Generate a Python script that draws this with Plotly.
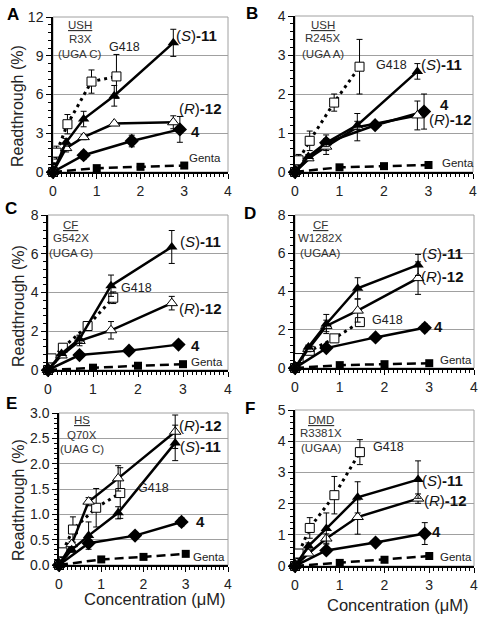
import plotly.graph_objects as go

W, H = 484, 622

# ---------------- data ----------------
X_CMPD = [0, 0.3, 0.7, 1.4, 2.75]      # (S)-11 and (R)-12
X_C4 = [0, 0.7, 1.8, 2.9]              # compound 4
X_G418 = [0, 0.08, 0.33, 0.88, 1.45]   # G418
X_GENTA = [0, 1, 2, 3]                 # gentamicin

A_S11 = [0, 2.3, 4.1, 5.9, 10.0]
A_S11_ERR = [0, 0.3, 0.6, 0.8, 1.05]
A_R12 = [0, 1.85, 2.7, 3.75, 3.85]
A_R12_ERR = [0, 0.3, 0.2, 0.1, 0.5]
A_C4 = [0, 1.3, 2.4, 3.3]
A_C4_ERR = [0, 0.3, 0.45, 1.0]
A_G418 = [0, 1.5, 3.7, 7.0, 7.4]
A_G418_ERR = [0, 0.5, 0.75, 0.9, 1.7]
A_GENTA = [0, 0.3, 0.4, 0.5]

B_S11 = [0, 0.4, 0.75, 1.2, 2.58]
B_S11_ERR = [0, 0.05, 0.1, 0.1, 0.2]
B_R12 = [0, 0.35, 0.65, 1.15, 1.45]
B_R12_ERR = [0, 0.05, 0.2, 0.35, 0.37]
B_C4 = [0, 0.75, 1.2, 1.55]
B_C4_ERR = [0, 0.2, 0.05, 0.45]
B_G418 = [0, 0.3, 0.8, 1.78, 2.7]
B_G418_ERR = [0, 0.15, 0.25, 0.22, 0.7]
B_GENTA = [0, 0.12, 0.15, 0.18]

C_S11 = [0, 0.85, 1.6, 4.35, 6.35]
C_S11_ERR = [0, 0.1, 0.2, 0.55, 0.85]
C_R12 = [0, 0.75, 1.5, 2.05, 3.45]
C_R12_ERR = [0, 0.1, 0.25, 0.45, 0.35]
C_C4 = [0, 0.77, 1.0, 1.31]
C_C4_ERR = [0, 0.15, 0.05, 0.1]
C_G418 = [0, 0.6, 1.15, 2.27, 3.73]
C_G418_ERR = [0, 0.1, 0.1, 0.15, 0.3]
C_GENTA = [0, 0.12, 0.22, 0.3]

D_S11 = [0, 1.1, 2.3, 4.17, 5.39]
D_S11_ERR = [0, 0.1, 0.5, 0.55, 0.55]
D_R12 = [0, 1.0, 2.2, 3.0, 4.7]
D_R12_ERR = [0, 0.15, 0.3, 0.6, 0.85]
D_C4 = [0, 1.04, 1.6, 2.1]
D_C4_ERR = [0, 0.1, 0.1, 0.2]
D_G418 = [0, 0.52, 0.9, 1.55, 2.4]
D_G418_ERR = [0, 0.05, 0.1, 0.1, 0.1]
D_GENTA = [0, 0.15, 0.2, 0.25]

E_S11 = [0, 0.3, 0.58, 1.03, 2.41]
E_S11_ERR = [0, 0.05, 0.27, 0.12, 0.35]
E_R12 = [0, 0.41, 1.25, 1.71, 2.63]
E_R12_ERR = [0, 0.05, 0.08, 0.25, 0.33]
E_C4 = [0, 0.43, 0.58, 0.85]
E_C4_ERR = [0, 0.04, 0.03, 0.08]
E_G418 = [0, 0.25, 0.7, 1.13, 1.42]
E_G418_ERR = [0, 0.05, 0.25, 0.38, 0.5]
E_GENTA = [0, 0.11, 0.16, 0.22]

F_S11 = [0, 0.64, 1.2, 2.2, 2.77]
F_S11_ERR = [0, 0.1, 0.5, 0.5, 0.6]
F_R12 = [0, 0.4, 0.88, 1.57, 2.16]
F_R12_ERR = [0, 0.05, 0.15, 0.55, 0.15]
F_C4 = [0, 0.5, 0.75, 1.04]
F_C4_ERR = [0, 0.05, 0.05, 0.35]
F_G418 = [0, 0.4, 1.22, 2.27, 3.65]
F_G418_ERR = [0, 0.05, 0.33, 0.6, 0.4]
F_GENTA = [0, 0.1, 0.2, 0.32]

X_TICKS = [0, 1, 2, 3, 4]
Y_MAX = {"A": 12, "B": 4, "C": 8, "D": 8, "E": 3.0, "F": 5}
Y_DTICK = {"A": 3, "B": 1, "C": 2, "D": 2, "E": 0.5, "F": 1}
GENE = {"A": ("USH", "R3X", "(UGA C)"), "B": ("USH", "R245X", "(UGA A)"),
        "C": ("CF", "G542X", "(UGA G)"), "D": ("CF", "W1282X", "(UGAA)"),
        "E": ("HS", "Q70X", "(UAG C)"), "F": ("DMD", "R3381X", "(UGAA)")}

PANELS = {
    "A": (A_S11, A_S11_ERR, A_R12, A_R12_ERR, A_C4, A_C4_ERR, A_G418, A_G418_ERR, A_GENTA),
    "B": (B_S11, B_S11_ERR, B_R12, B_R12_ERR, B_C4, B_C4_ERR, B_G418, B_G418_ERR, B_GENTA),
    "C": (C_S11, C_S11_ERR, C_R12, C_R12_ERR, C_C4, C_C4_ERR, C_G418, C_G418_ERR, C_GENTA),
    "D": (D_S11, D_S11_ERR, D_R12, D_R12_ERR, D_C4, D_C4_ERR, D_G418, D_G418_ERR, D_GENTA),
    "E": (E_S11, E_S11_ERR, E_R12, E_R12_ERR, E_C4, E_C4_ERR, E_G418, E_G418_ERR, E_GENTA),
    "F": (F_S11, F_S11_ERR, F_R12, F_R12_ERR, F_C4, F_C4_ERR, F_G418, F_G418_ERR, F_GENTA),
}

# ---------------- layout geometry (pixels) ----------------
BOX = {  # x_left, x_right, y_top, y_bottom
    "A": (53, 228, 17, 172), "B": (295, 473, 16, 172),
    "C": (48, 228, 215, 370), "D": (295, 474, 215, 368),
    "E": (59, 228, 413, 565), "F": (295, 474, 410, 566),
}
LETTER_POS = {"A": (13, 15), "B": (252, 13), "C": (11, 208), "D": (250, 213),
              "E": (11, 404), "F": (250, 408)}
XTITLE_POS = {"E": (155, 599), "F": (398, 605)}
YTITLE_POS = {"A": (18, 106), "C": (18, 306), "E": (18, 500)}

# label positions in data coords: gene label (x, y1, y2, y3), G418, S11, R12, 4, Genta
LABELS = {
    "A": ((0.62, 11.35, 10.3, 9.16), (1.64, 9.68), (3.29, 10.58), (3.38, 4.9), (3.25, 3.1), (3.48, 1.08)),
    "B": ((0.62, 3.77, 3.43, 3.03), (2.17, 2.75), (3.29, 2.75), (3.5, 1.34), (3.35, 1.72), (3.66, 0.23)),
    "C": ((0.5, 7.49, 6.8, 6.02), (1.97, 4.22), (3.38, 6.63), (3.38, 3.18), (3.27, 1.29), (3.53, 0.43)),
    "D": ((0.56, 7.48, 6.78, 6.0), (2.06, 2.52), (3.29, 6.0), (3.29, 4.78), (3.21, 2.17), (3.59, 0.43)),
    "E": ((0.55, 2.86, 2.56, 2.28), (2.23, 1.51), (3.34, 2.33), (3.34, 2.76), (3.34, 0.85), (3.54, 0.15)),
    "F": ((0.57, 4.68, 4.25, 3.77), (2.1, 3.82), (3.29, 2.75), (3.37, 2.11), (3.16, 1.12), (3.59, 0.29)),
}

FONT = "Liberation Sans, Arial, sans-serif"
fig = go.Figure()
layout = dict(width=W, height=H, margin=dict(l=0, r=0, t=0, b=0, pad=0), autosize=False,
              template="none",
              paper_bgcolor="white", plot_bgcolor="white", showlegend=False,
              font=dict(family=FONT, color="#222"))
annotations = []
shapes = []


def err(vals):
    return dict(type="data", array=vals, visible=True, color="black", thickness=1, width=3)


def note(x, y, xref, yref, text, size, color="#222", angle=0):
    return dict(x=x, y=y, xref=xref, yref=yref, text=text, showarrow=False,
                xanchor="center", yanchor="middle", textangle=angle,
                font=dict(size=size, color=color, family=FONT))


for i, key in enumerate("ABCDEF"):
    n = "" if i == 0 else str(i + 1)
    xa, ya = "x" + n, "y" + n
    xl, xr, yt, yb = BOX[key]
    S11, S11E, R12, R12E, C4, C4E, G418, G418E, GEN = PANELS[key]
    common = dict(xaxis=xa, yaxis=ya, mode="lines+markers", cliponaxis=False, hoverinfo="skip")
    fig.add_trace(go.Scatter(x=X_GENTA, y=GEN, line=dict(color="black", width=2.5, dash="9px,5px"),
                             marker=dict(symbol="square", size=8, color="black"), **common))
    fig.add_trace(go.Scatter(x=X_G418, y=G418, error_y=err(G418E),
                             line=dict(color="black", width=3, dash="3px,4px"),
                             marker=dict(symbol="square", size=9, color="white",
                                         line=dict(color="black", width=1)), **common))
    fig.add_trace(go.Scatter(x=X_C4, y=C4, error_y=err(C4E), line=dict(color="black", width=2.5),
                             marker=dict(symbol="diamond", size=11, color="black"), **common))
    fig.add_trace(go.Scatter(x=X_CMPD, y=R12, error_y=err(R12E), line=dict(color="black", width=2.5),
                             marker=dict(symbol="triangle-up", size=10, color="white",
                                         line=dict(color="black", width=1)), **common))
    fig.add_trace(go.Scatter(x=X_CMPD, y=S11, error_y=err(S11E), line=dict(color="black", width=2.5),
                             marker=dict(symbol="triangle-up", size=10, color="black"), **common))

    dom_x = [xl / W, xr / W]
    dom_y = [1 - yb / H, 1 - yt / H]
    ymax = Y_MAX[key]
    dt = Y_DTICK[key]
    layout["xaxis" + n] = dict(domain=dom_x, anchor=ya, range=[0, 4], tickvals=X_TICKS,
                               automargin=False,
                               ticks="outside", ticklen=5, tickcolor="black",
                               showline=True, linecolor="black", linewidth=1.5,
                               showgrid=False, zeroline=False,
                               minor=dict(dtick=0.1, ticks="outside", ticklen=3, tickcolor="black",
                                          showgrid=False),
                               tickfont=dict(size=14, color="#222", family=FONT))
    ytickfmt = ".1f" if key == "E" else "d"
    layout["yaxis" + n] = dict(domain=dom_y, anchor=xa, range=[0, ymax], dtick=dt, tick0=0,
                               tickformat=ytickfmt, automargin=False,
                               ticks="outside", ticklen=5, tickcolor="black",
                               showline=True, linecolor="black", linewidth=1.5,
                               showgrid=True, gridcolor="#a0a0a0", gridwidth=1,
                               zeroline=False,
                               minor=dict(dtick=dt / 5, ticks="outside", ticklen=3, tickcolor="black",
                                          showgrid=False),
                               tickfont=dict(size=14, color="#222", family=FONT))
    # plot-area frame
    shapes.append(dict(type="rect", xref=xa + " domain", yref=ya + " domain",
                       x0=0, x1=1, y0=0, y1=1, line=dict(color="#a0a0a0", width=1), layer="below"))

    gl, g418p, s11p, r12p, c4p, genp = LABELS[key]
    for txt, yy in ((f"<u>{GENE[key][0]}</u>", gl[1]), (GENE[key][1], gl[2]), (GENE[key][2], gl[3])):
        annotations.append(note(gl[0], yy, xa, ya, txt, 11.5, "#333"))
    annotations.append(note(g418p[0], g418p[1], xa, ya, "G418", 12.5))
    annotations.append(note(s11p[0], s11p[1], xa, ya, "(<i>S</i>)<b>-11</b>", 15, "#111"))
    annotations.append(note(r12p[0], r12p[1], xa, ya, "(<i>R</i>)<b>-12</b>", 15, "#111"))
    annotations.append(note(c4p[0], c4p[1], xa, ya, "<b>4</b>", 15, "#111"))
    annotations.append(note(genp[0], genp[1], xa, ya, "Genta", 11.5))
    lx, ly = LETTER_POS[key]
    annotations.append(note(lx / W, 1 - ly / H, "paper", "paper", f"<b>{key}</b>", 17, "black"))

# y-axis titles (A, C, E) and x-axis titles (E, F)
for key, (xc, yc) in YTITLE_POS.items():
    annotations.append(note(xc / W, 1 - yc / H, "paper", "paper", "Readthrough (%)", 16, angle=-90))
for key, (xc, yc) in XTITLE_POS.items():
    annotations.append(note(xc / W, 1 - yc / H, "paper", "paper", "Concentration (μM)", 16.5))

layout["annotations"] = annotations
layout["shapes"] = shapes
fig.update_layout(**layout)
fig.write_html("out.html", config={"displayModeBar": False},
               post_script="document.body.style.margin='0';document.body.style.padding='0';")
